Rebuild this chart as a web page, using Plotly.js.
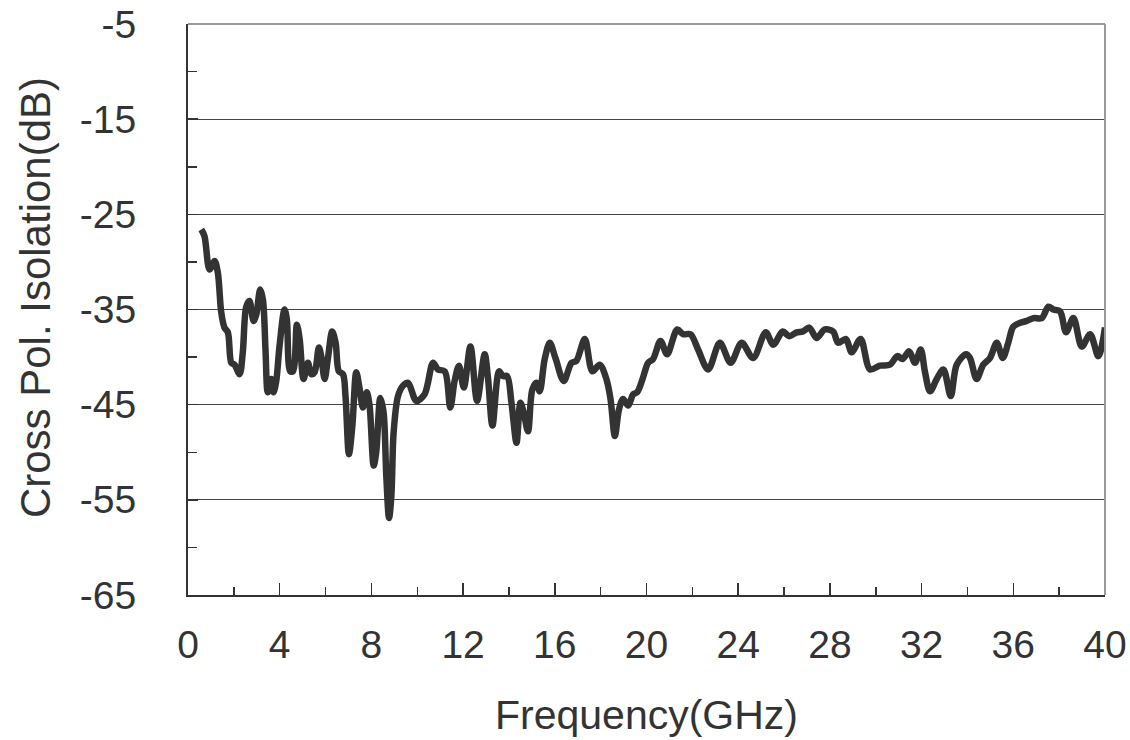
<!DOCTYPE html>
<html>
<head>
<meta charset="utf-8">
<script src="https://cdn.plot.ly/plotly-3.0.1.min.js"></script>
<style>html,body{margin:0;padding:0;background:#fff;}#chart{width:1130px;height:740px;}</style>
</head>
<body>
<div id="chart"></div>
<script>
const freqGHz = [0.58,0.72,0.94,1.16,1.3,1.45,1.59,1.74,1.89,2.03,2.25,2.39,2.54,2.68,2.86,2.98,3.15,3.27,3.38,3.48,3.63,3.73,3.85,3.99,4.21,4.31,4.46,4.58,4.75,4.87,5.04,5.23,5.38,5.52,5.71,5.81,5.96,6.1,6.29,6.44,6.58,6.76,6.87,7.02,7.17,7.34,7.49,7.63,7.8,7.92,8.1,8.21,8.39,8.53,8.65,8.77,8.87,8.97,9.16,9.38,9.6,9.96,10.32,10.69,10.9,11.2,11.44,11.63,11.82,12.03,12.32,12.61,12.94,13.09,13.28,13.57,13.74,13.92,14.11,14.33,14.5,14.64,14.83,15.02,15.2,15.34,15.56,15.78,16.04,16.39,16.73,16.94,17.31,17.64,17.96,18.25,18.43,18.62,18.8,18.98,19.2,19.42,19.59,19.83,20.07,20.29,20.61,20.9,21.34,21.6,21.92,22.25,22.69,23.2,23.67,24.15,24.65,25.2,25.53,25.94,26.22,26.55,26.83,27.1,27.42,27.78,28.14,28.36,28.7,28.95,29.34,29.75,30.18,30.62,30.94,31.17,31.46,31.71,31.96,32.15,32.37,32.66,32.95,33.27,33.53,33.94,34.11,34.4,34.69,34.98,35.28,35.54,35.78,36.0,36.3,36.59,36.88,37.24,37.53,37.75,38.04,38.3,38.62,38.99,39.35,39.71,40.0];
const isolationDB = [-26.6,-27.3,-30.8,-29.9,-31.1,-35.3,-36.9,-37.4,-40.6,-40.8,-41.8,-39.5,-34.7,-34.1,-36.2,-35.5,-32.9,-34.0,-39.2,-43.7,-42.3,-43.7,-42.5,-38.9,-35.0,-36.0,-41.5,-41.5,-36.6,-38.1,-42.3,-40.6,-41.8,-41.6,-39.0,-39.9,-42.3,-40.2,-37.3,-38.5,-41.5,-41.8,-44.1,-50.2,-47.2,-41.6,-43.4,-45.3,-43.7,-45.1,-51.4,-50.0,-44.3,-45.8,-52.5,-56.9,-54.6,-47.9,-44.1,-43.0,-42.7,-44.6,-43.9,-40.6,-41.3,-41.5,-45.3,-42.5,-40.9,-43.2,-38.9,-44.6,-39.7,-42.3,-47.2,-41.5,-42.0,-42.0,-44.8,-49.0,-44.8,-45.8,-47.8,-43.4,-42.7,-43.6,-40.2,-38.5,-40.2,-42.5,-40.6,-40.4,-38.1,-41.5,-40.8,-42.3,-44.4,-48.3,-45.5,-44.4,-45.1,-43.9,-43.7,-42.3,-40.6,-40.2,-38.3,-39.7,-37.1,-37.6,-37.6,-39.2,-41.3,-38.5,-40.6,-38.5,-40.1,-37.4,-38.7,-37.3,-37.8,-37.4,-37.3,-36.9,-38.0,-37.1,-37.3,-38.5,-38.1,-39.5,-38.1,-41.3,-40.9,-40.8,-39.9,-40.2,-39.4,-40.6,-39.2,-41.6,-43.6,-42.3,-41.3,-44.1,-40.8,-39.7,-40.1,-42.3,-40.8,-40.1,-38.5,-40.1,-38.5,-36.8,-36.4,-36.2,-35.9,-35.9,-34.7,-35.0,-35.2,-37.4,-35.9,-38.9,-37.6,-39.9,-36.9];
const xTickVals = [0,4,8,12,16,20,24,28,32,36,40];
const yTickVals = [-5,-15,-25,-35,-45,-55,-65];
const yTickText = ['-5','-15','-25','-35','-45','-55','-65'];
const xTitle = 'Frequency(GHz)';
const yTitle = 'Cross Pol. Isolation(dB)';

const fontFam = '"Liberation Sans", Arial, sans-serif';
const trace = {
  x: freqGHz, y: isolationDB, type: 'scatter', mode: 'lines',
  line: {color: '#333333', width: 6.5, shape: 'spline', smoothing: 0.9},
  hoverinfo: 'skip'
};
const layout = {
  width: 1130, height: 740,
  margin: {l: 188, r: 25, t: 24, b: 145},
  paper_bgcolor: '#ffffff', plot_bgcolor: '#ffffff',
  showlegend: false,
  font: {family: fontFam, color: '#333333', size: 39},
  xaxis: {
    range: [0, 40], tickmode: 'array', tickvals: xTickVals,
    ticks: 'inside', ticklen: 12, tickwidth: 1.5, tickcolor: '#333',
    minor: {dtick: 2, tick0: 0, ticks: 'inside', ticklen: 8, tickwidth: 1.5, tickcolor: '#333', showgrid: false},
    showgrid: false, zeroline: false,
    showline: true, linecolor: '#333', linewidth: 2,
    ticklabelstandoff: 14,
    tickfont: {size: 39, color: '#333', family: fontFam},
    title: {text: xTitle, font: {size: 41, color: '#333', family: fontFam}, standoff: 36}
  },
  yaxis: {
    range: [-65, -5], tickmode: 'array', tickvals: yTickVals, ticktext: yTickText,
    ticks: 'inside', ticklen: 10, tickwidth: 1.5, tickcolor: '#333',
    minor: {dtick: 10, tick0: 0, ticks: 'inside', ticklen: 9, tickwidth: 1.5, tickcolor: '#333', showgrid: false},
    showgrid: true, gridcolor: '#444', gridwidth: 1.2,
    zeroline: false,
    showline: true, linecolor: '#333', linewidth: 2,
    ticklabelstandoff: 42,
    tickfont: {size: 39, color: '#333', family: fontFam}
  },
  annotations: [
    {text: yTitle, xref: 'paper', yref: 'paper', x: -0.1668, y: 0.52, xanchor: 'center', yanchor: 'middle',
     textangle: -90, showarrow: false, font: {size: 42, color: '#333', family: fontFam}}
  ],
  shapes: [
    {type: 'line', xref: 'paper', yref: 'paper', x0: 0, x1: 1, y0: 1, y1: 1, line: {color: '#999', width: 2}},
    {type: 'line', xref: 'paper', yref: 'paper', x0: 1, x1: 1, y0: 0, y1: 1, line: {color: '#999', width: 2}}
  ]
};
Plotly.newPlot('chart', [trace], layout, {staticPlot: true, displayModeBar: false});
</script>
</body>
</html>
